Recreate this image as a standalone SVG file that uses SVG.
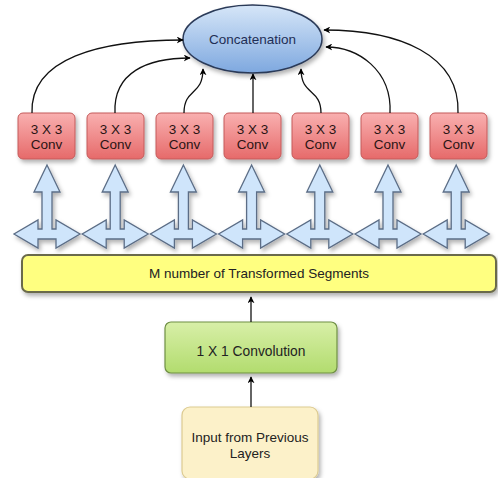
<svg xmlns="http://www.w3.org/2000/svg" width="498" height="478" viewBox="0 0 498 478">
<defs>
<linearGradient id="gBlue" x1="0" y1="0" x2="0" y2="1"><stop offset="0" stop-color="#d6e6f8"/><stop offset="1" stop-color="#7ea8df"/></linearGradient>
<linearGradient id="gRed" x1="0" y1="0" x2="0" y2="1"><stop offset="0" stop-color="#f9b0b0"/><stop offset="1" stop-color="#e66a6a"/></linearGradient>
<linearGradient id="gGreen" x1="0" y1="0" x2="0" y2="1"><stop offset="0" stop-color="#d8efa8"/><stop offset="1" stop-color="#b2dc6e"/></linearGradient>
<filter id="sh" x="-20%" y="-20%" width="150%" height="160%"><feDropShadow dx="2" dy="3" stdDeviation="2" flood-color="#000" flood-opacity="0.3"/></filter>
<marker id="ah" viewBox="0 0 10 10" refX="9" refY="5" markerWidth="7" markerHeight="7" orient="auto" markerUnits="userSpaceOnUse"><path d="M0,0 L10,5 L0,10 L3,5 z" fill="#000"/></marker>
<path id="bi" d="M0,165 L13,192 L5,192 L5,229 L9,229 L9,220 L33,234 L9,248 L9,239 L-9,239 L-9,248 L-33,234 L-9,220 L-9,229 L-5,229 L-5,192 L-13,192 Z"/>
</defs>
<style>
text{font-family:"Liberation Sans",Arial,sans-serif;text-anchor:middle}
.conv rect{fill:url(#gRed);stroke:#c45a5a;stroke-width:1}
.conv text{font-size:13.5px;fill:#2a1414}
.c{fill:none;stroke:#111;stroke-width:1.3;marker-end:url(#ah)}
.bi use{fill:#cfe5fb;stroke:#5b6d86;stroke-width:1.3;filter:url(#sh)}
</style>
<rect width="498" height="478" fill="#fff"/>

<g id="concat">
<ellipse cx="252.5" cy="39" rx="69.5" ry="34" fill="url(#gBlue)" stroke="#2b3a58" stroke-width="1.5" filter="url(#sh)"/>
<text x="252.5" y="44" font-size="13.5" fill="#1f2e55">Concatenation</text>
</g>

<g id="conv1" class="conv"><rect x="18" y="113" width="57" height="46" rx="5" filter="url(#sh)"/><text x="46.5" y="134">3 X 3</text><text x="46.5" y="149">Conv</text></g>
<g id="conv2" class="conv"><rect x="87" y="113" width="57" height="46" rx="5" filter="url(#sh)"/><text x="115.5" y="134">3 X 3</text><text x="115.5" y="149">Conv</text></g>
<g id="conv3" class="conv"><rect x="156" y="113" width="57" height="46" rx="5" filter="url(#sh)"/><text x="184.5" y="134">3 X 3</text><text x="184.5" y="149">Conv</text></g>
<g id="conv4" class="conv"><rect x="224" y="113" width="57" height="46" rx="5" filter="url(#sh)"/><text x="252.5" y="134">3 X 3</text><text x="252.5" y="149">Conv</text></g>
<g id="conv5" class="conv"><rect x="292" y="113" width="57" height="46" rx="5" filter="url(#sh)"/><text x="320.5" y="134">3 X 3</text><text x="320.5" y="149">Conv</text></g>
<g id="conv6" class="conv"><rect x="361" y="113" width="57" height="46" rx="5" filter="url(#sh)"/><text x="389.5" y="134">3 X 3</text><text x="389.5" y="149">Conv</text></g>
<g id="conv7" class="conv"><rect x="430" y="113" width="57" height="46" rx="5" filter="url(#sh)"/><text x="458.5" y="134">3 X 3</text><text x="458.5" y="149">Conv</text></g>

<g id="splits" class="bi">
<use href="#bi" x="47"/>
<use href="#bi" x="115.2"/>
<use href="#bi" x="183.4"/>
<use href="#bi" x="251.6"/>
<use href="#bi" x="319.8"/>
<use href="#bi" x="388"/>
<use href="#bi" x="456.2"/>
</g>

<g id="segments">
<rect x="22" y="255" width="474" height="37" rx="6" fill="#ffff80" stroke="#6b6b4c" stroke-width="2" filter="url(#sh)"/>
<text x="259" y="278" font-size="13.5" fill="#222">M  number of Transformed Segments</text>
</g>

<g id="conv1x1">
<rect x="165" y="322" width="172" height="51" rx="6" fill="url(#gGreen)" stroke="#6f8f45" stroke-width="1.2" filter="url(#sh)"/>
<text x="251" y="356" font-size="13.8" fill="#222">1 X 1 Convolution</text>
</g>

<g id="input">
<rect x="182" y="407" width="136" height="72" rx="8" fill="#fcf1c9" stroke="#dccb92" stroke-width="1.2" filter="url(#sh)"/>
<text x="250" y="442" font-size="13.5" fill="#222">Input from Previous</text>
<text x="250" y="458" font-size="13.5" fill="#222">Layers</text>
</g>

<g id="connectors">
<path class="c" d="M32,113 C30,58 100,40 183,40"/>
<path class="c" d="M115,113 C113,72 148,58 190,58"/>
<path class="c" d="M184,113 C184,88 203,96 203,69"/>
<path class="c" d="M253,113 L253,74"/>
<path class="c" d="M321,113 C321,88 301,96 301,69"/>
<path class="c" d="M390,113 C392,70 358,47 326,47"/>
<path class="c" d="M458,113 C460,55 400,30 324,30"/>
<path class="c" d="M251,322 L251,297"/>
<path class="c" d="M251,407 L251,377"/>
</g>
</svg>
